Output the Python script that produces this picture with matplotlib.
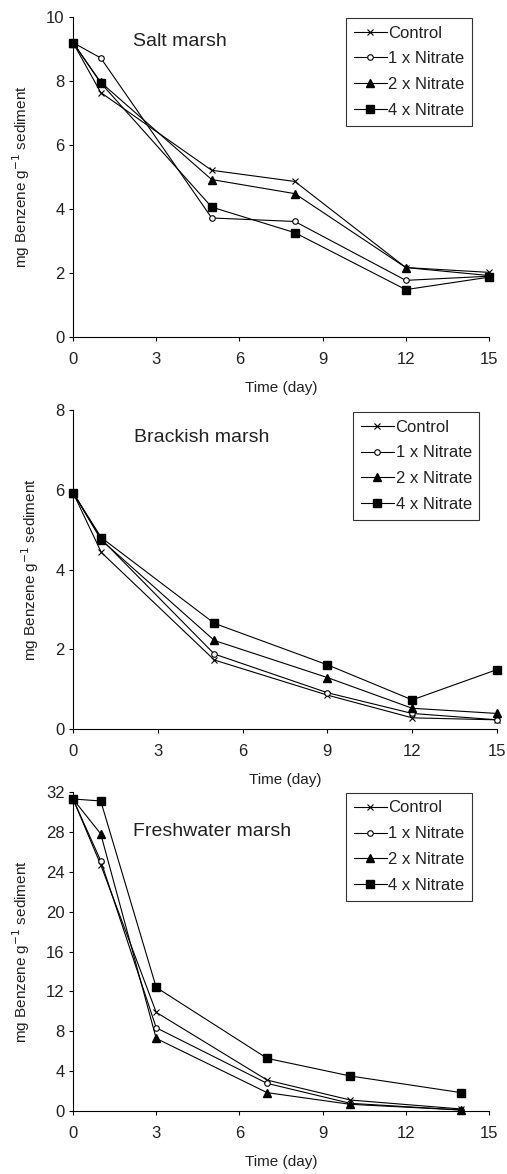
import numpy as np
import matplotlib
matplotlib.use("Agg")
import matplotlib.pyplot as plt

plt.rcParams['font.family'] = ['Liberation Sans', 'DejaVu Sans']

series_names = ['Control', '1 x Nitrate', '2 x Nitrate', '4 x Nitrate']

# salt marsh
salt_days = [0, 1, 5, 8, 12, 15]
salt_control = [9.2, 7.64, 5.21, 4.86, 2.17, 2.02]
salt_1x = [9.2, 8.72, 3.72, 3.61, 1.77, 1.90]
salt_2x = [9.2, 7.96, 4.92, 4.48, 2.17, 1.92]
salt_4x = [9.2, 7.94, 4.06, 3.26, 1.48, 1.87]

# brackish marsh
brack_days = [0, 1, 5, 9, 12, 15]
brack_control = [5.93, 4.43, 1.73, 0.85, 0.28, 0.23]
brack_1x = [5.93, 4.76, 1.88, 0.91, 0.39, 0.23]
brack_2x = [5.93, 4.74, 2.22, 1.29, 0.52, 0.39]
brack_4x = [5.93, 4.80, 2.65, 1.61, 0.73, 1.49]

# freshwater marsh
fresh_days = [0, 1, 3, 7, 10, 14]
fresh_control = [31.3, 24.7, 9.9, 3.1, 1.1, 0.2]
fresh_1x = [31.3, 25.1, 8.35, 2.77, 0.77, 0.1]
fresh_2x = [31.3, 27.8, 7.28, 1.84, 0.67, 0.1]
fresh_4x = [31.3, 31.1, 12.4, 5.28, 3.51, 1.84]

styles = [
    dict(marker='x', ms=5, mfc='black', mec='black', mew=0.8),
    dict(marker='o', ms=4, mfc='white', mec='black', mew=0.8),
    dict(marker='^', ms=6, mfc='black', mec='black'),
    dict(marker='s', ms=5.5, mfc='black', mec='black'),
]

W, H = 507, 1174
fig = plt.figure(figsize=(W / 100, H / 100), dpi=100)

panels = [
    ('Salt marsh', salt_days, [salt_control, salt_1x, salt_2x, salt_4x],
     (73, 489, 17, 337), 10, 2, (346, 18), 0.925),
    ('Brackish marsh', brack_days, [brack_control, brack_1x, brack_2x, brack_4x],
     (73, 497, 410, 729), 8, 2, (353, 412), 0.915),
    ('Freshwater marsh', fresh_days, [fresh_control, fresh_1x, fresh_2x, fresh_4x],
     (73, 489, 792, 1111), 32, 4, (346, 793), 0.875),
]

txt = '#222222'
for title, days, vals, (l, r, t, b), ymax, ystep, (lx, ly), ty in panels:
    ax = fig.add_axes([l / W, 1 - b / H, (r - l) / W, (b - t) / H])
    for name, v, st in zip(series_names, vals, styles):
        ax.plot(days, v, color='black', lw=0.8, label=name, clip_on=False, **st)
    ax.set_xlim(0, 15)
    ax.set_ylim(0, ymax)
    ax.set_xticks(np.arange(0, 16, 3))
    ax.set_yticks(np.arange(0, ymax + 0.1, ystep))
    for s in ['top', 'right']:
        ax.spines[s].set_visible(False)
    for s in ['left', 'bottom']:
        ax.spines[s].set_linewidth(0.8)
    ax.tick_params(direction='out', length=3, width=0.8, labelsize=12,
                   labelcolor=txt)
    ax.tick_params(axis='x', pad=8)
    ax.tick_params(axis='y', pad=3)
    ax.set_xlabel('Time (day)', fontsize=11, color=txt, labelpad=10)
    ax.set_ylabel('mg Benzene g$^{-1}$ sediment', fontsize=11, color=txt, labelpad=10)
    ax.text(0.145, ty, title, transform=ax.transAxes,
            fontsize=14, color=txt, va='center')
    leg = ax.legend(loc='upper left', bbox_to_anchor=(lx / W, 1 - ly / H),
                    bbox_transform=fig.transFigure, fontsize=12, frameon=True,
                    fancybox=False, edgecolor='black', handlelength=2.0,
                    handletextpad=0.1, labelspacing=0.65, borderpad=0.45,
                    borderaxespad=0)
    leg.get_frame().set_linewidth(0.8)
    for tx in leg.get_texts():
        tx.set_color(txt)

fig.savefig('out.png', dpi=100)
